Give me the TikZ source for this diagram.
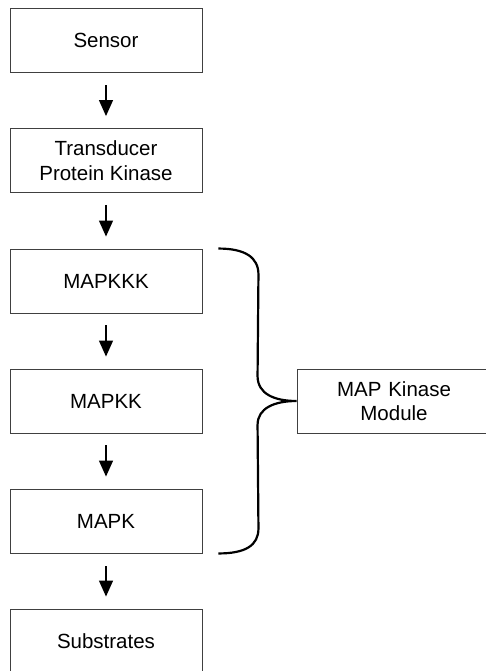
\documentclass[tikz,border=0pt]{standalone}
\usepackage{fontspec}
\setmainfont{Liberation Sans}
\usetikzlibrary{arrows.meta}
\begin{document}
\begin{tikzpicture}[x=1pt,y=-1pt,
  stepbox/.style={draw=black!75,line width=0.9pt,minimum width=192pt,minimum height=64pt,inner sep=0pt,align=center,font=\fontsize{20.5}{24.5}\selectfont},
  arr/.style={line width=1.3pt,-{Triangle[length=16pt,width=14pt]}},
  bracestyle/.style={line width=2.2pt,black}]
\useasboundingbox (0,0) rectangle (485,671);
\node[stepbox] (sensor) at (106,40) {Sensor};
\node[stepbox] (trans) at (106,160.5) {Transducer\\Protein Kinase};
\node[stepbox] (mkkk) at (106,281) {MAPKKK};
\node[stepbox] (mkk) at (106,401) {MAPKK};
\node[stepbox] (mk) at (106,521) {MAPK};
\node[stepbox] (sub) at (106,641) {Substrates};
\node[stepbox,minimum width=200pt,text width=194pt] (mod) at (397,401) {\hspace*{-6pt}MAP Kinase\\\hspace*{-6pt}Module};
\draw[arr] ([yshift=-13pt]sensor.south) -- ([yshift=12pt]trans.north);
\draw[arr] ([yshift=-12pt]trans.south) -- ([yshift=12pt]mkkk.north);
\draw[arr] ([yshift=-12pt]mkkk.south) -- ([yshift=12pt]mkk.north);
\draw[arr] ([yshift=-12pt]mkk.south) -- ([yshift=12pt]mk.north);
\draw[arr] ([yshift=-13pt]mk.south) -- ([yshift=12pt]sub.north);
\coordinate (btop) at ([xshift=16pt]mkkk.north east);
\coordinate (bbot) at ([xshift=16pt]mk.south east);
\draw[bracestyle] (btop) .. controls +(27,0) and +(0,-17) .. ([xshift=40pt,yshift=-26pt]btop)
  -- ([xshift=-39pt,yshift=25pt]mod.west) .. controls +(0,18) and +(-22,0) .. (mod.west)
  .. controls +(-22,0) and +(0,-17) .. ([xshift=-39pt,yshift=-24pt]mod.west)
  -- ([xshift=40pt,yshift=25pt]bbot) .. controls +(0,17) and +(27,0) .. (bbot);
\end{tikzpicture}
\end{document}
